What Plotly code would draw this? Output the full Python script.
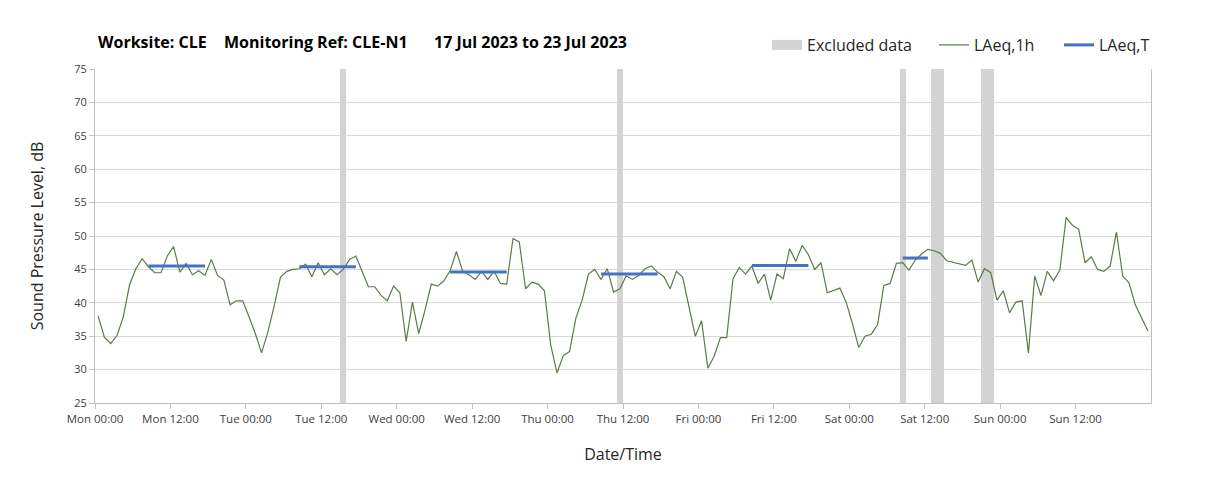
import plotly.graph_objects as go
import pandas as pd

# ---------------- data ----------------
period_start = "2023-07-17 00:00"
period_end = "2023-07-24 00:00"

# hourly LAeq,1h values (dB), Mon 00:00 .. Sun 23:00
laeq_1h = [
    # Mon
    38.0, 34.8, 33.9, 35.1, 37.9, 42.7, 45.1, 46.6, 45.4, 44.5, 44.5, 47.0,
    48.4, 44.6, 45.9, 44.2, 44.8, 44.1, 46.5, 44.1, 43.4, 39.7, 40.3, 40.3,
    # Tue
    37.9, 35.4, 32.5, 35.6, 39.5, 43.8, 44.7, 45.0, 45.1, 45.8, 43.9, 46.0,
    44.2, 45.1, 44.2, 45.0, 46.5, 47.0, 44.7, 42.4, 42.4, 41.1, 40.3, 42.5,
    # Wed
    41.5, 34.2, 40.1, 35.4, 38.9, 42.8, 42.5, 43.3, 44.8, 47.7, 44.7, 44.2,
    43.5, 44.7, 43.5, 44.7, 42.9, 42.8, 49.6, 49.1, 42.1, 43.1, 42.8, 41.8,
    # Thu
    33.7, 29.5, 32.1, 32.7, 37.7, 40.4, 44.3, 45.0, 43.5, 45.1, 41.6, 42.1,
    44.0, 43.5, 44.1, 45.1, 45.5, 44.6, 43.9, 42.1, 44.7, 43.8, 39.4, 35.0,
    # Fri
    37.3, 30.2, 32.0, 34.8, 34.8, 43.6, 45.3, 44.3, 45.5, 42.9, 44.3, 40.4,
    44.3, 43.6, 48.1, 46.2, 48.6, 47.2, 45.0, 46.0, 41.5, 41.9, 42.2, 40.1,
    # Sat
    36.9, 33.3, 35.0, 35.3, 36.7, 42.6, 42.9, 45.9, 46.0, 44.9, 46.4, 47.3,
    48.0, 47.8, 47.4, 46.3, 46.1, 45.9, 45.6, 46.4, 43.1, 45.1, 44.5, 40.4,
    # Sun
    41.8, 38.5, 40.1, 40.3, 32.5, 44.0, 41.1, 44.7, 43.3, 44.9, 52.8, 51.6,
    51.0, 46.0, 46.9, 45.0, 44.7, 45.5, 50.6, 44.0, 43.0, 39.7, 37.7, 35.8,
]

# LAeq,T periods (start, end) and levels
laeq_t_start = ["2023-07-17 08:30", "2023-07-18 08:30", "2023-07-19 08:30",
                "2023-07-20 08:30", "2023-07-21 08:30", "2023-07-22 08:30"]
laeq_t_end = ["2023-07-17 17:30", "2023-07-18 17:30", "2023-07-19 17:30",
              "2023-07-20 17:30", "2023-07-21 17:30", "2023-07-22 12:30"]
laeq_t_values = [45.5, 45.4, 44.6, 44.3, 45.6, 46.7]

# Excluded data periods
excluded_start = ["2023-07-18 15:00", "2023-07-20 11:00", "2023-07-22 08:00",
                  "2023-07-22 13:00", "2023-07-22 21:00"]
excluded_end = ["2023-07-18 16:00", "2023-07-20 12:00", "2023-07-22 09:00",
                "2023-07-22 15:00", "2023-07-22 23:00"]

y_min, y_max = 25, 75

title_parts = ["Worksite: CLE", "Monitoring Ref: CLE-N1", "17 Jul 2023 to 23 Jul 2023"]

# ---------------- derived ----------------
t0 = pd.Timestamp(period_start)
t_end = pd.Timestamp(period_end)
hour_times = [t0 + pd.Timedelta(minutes=30) + pd.Timedelta(hours=i) for i in range(len(laeq_1h))]

ex_s = pd.to_datetime(excluded_start)
ex_e = pd.to_datetime(excluded_end)
ex_center = [s + (e - s) / 2 for s, e in zip(ex_s, ex_e)]
ex_width = [(e - s).total_seconds() * 1000 for s, e in zip(ex_s, ex_e)]

lt_x, lt_y = [], []
for s, e, v in zip(laeq_t_start, laeq_t_end, laeq_t_values):
    lt_x += [pd.Timestamp(s), pd.Timestamp(e), None]
    lt_y += [v, v, None]

tick_vals = list(pd.date_range(t0, t_end, freq="12h"))[:-1]
tick_text = [t.strftime("%a %H:%M") for t in tick_vals]

FONT = "Open Sans"
GRID = "#D9D9D9"
AXIS = "#BFBFBF"
GREEN = "#5A7B4A"
BLUE = "#4472C4"
BAND = "#D3D3D3"

# page body has an 8px margin: figure origin sits at (8, 8) in the window
W, H = 1200, 488
ML, MR, MT, MB = 87, 57, 61, 93
PW = W - ML - MR
PH = H - MT - MB


def px_x(px):  # window pixel -> paper x
    return (px - 8 - ML) / PW


def px_y(py):  # window pixel -> paper y
    return (H - MB - (py - 8)) / PH


fig = go.Figure()

fig.add_trace(go.Bar(
    x=ex_center, y=[y_max - y_min] * len(ex_center), base=y_min, width=ex_width,
    marker=dict(color=BAND, line=dict(width=0)), showlegend=False,
    legendgroup="ex", hoverinfo="skip",
))
# legend proxy for excluded data (wide grey block)
fig.add_trace(go.Scatter(
    x=[None], y=[None], mode="lines", name="Excluded data",
    line=dict(color=BAND, width=10), legendgroup="ex", legendwidth=122,
))
fig.add_trace(go.Scatter(
    x=hour_times, y=laeq_1h, mode="lines", name="LAeq,1h",
    line=dict(color=GREEN, width=1.2), legendwidth=80,
))
fig.add_trace(go.Scatter(
    x=lt_x, y=lt_y, mode="lines", name="LAeq,T",
    line=dict(color=BLUE, width=3), legendwidth=60,
))

fig.update_layout(
    width=W, height=H,
    margin=dict(l=ML, r=MR, t=MT, b=MB),
    paper_bgcolor="white", plot_bgcolor="white",
    font=dict(family=FONT, size=11, color="#404040"),
    bargap=0,
    legend=dict(
        orientation="h", x=px_x(767), xanchor="left",
        y=px_y(45), yanchor="middle",
        font=dict(family=FONT, size=16, color="#262626"),
        itemwidth=30, bgcolor="rgba(0,0,0,0)",
    ),
    xaxis=dict(
        type="date", range=[t0, t_end],
        tickvals=tick_vals, ticktext=tick_text,
        showgrid=False, showline=True, linecolor=AXIS, linewidth=1,
        ticks="outside", ticklen=5, tickcolor=AXIS,
        tickfont=dict(family=FONT, size=11.5, color="#404040"),
        title=dict(text="Date/Time", standoff=24,
                   font=dict(family=FONT, size=16, color="#262626")),
        zeroline=False,
    ),
    xaxis2=dict(
        type="date", range=[t0, t_end], overlaying="x", matches="x",
        tick0=t0, dtick=86400000, tickmode="linear",
        showgrid=True, gridcolor=GRID, gridwidth=1,
        showticklabels=False, ticks="", showline=False, zeroline=False,
    ),
    yaxis=dict(
        range=[y_min, y_max], dtick=5, tick0=25,
        showgrid=True, gridcolor=GRID, gridwidth=1,
        showline=True, mirror=True, linecolor=AXIS, linewidth=1,
        ticks="outside", ticklen=5, tickcolor=AXIS,
        tickfont=dict(family=FONT, size=11, color="#404040"),
        title=dict(text="Sound Pressure Level, dB", standoff=26,
                   font=dict(family=FONT, size=16, color="#262626")),
        zeroline=False,
    ),
)

title_x_px = [96, 222, 432]
for txt, px in zip(title_parts, title_x_px):
    fig.add_annotation(
        text="<b>" + txt + "</b>", xref="paper", yref="paper",
        x=px_x(px), y=px_y(42), xanchor="left", yanchor="middle",
        showarrow=False, font=dict(family=FONT, size=16, color="#000000"),
    )

fig.write_html("out.html")
